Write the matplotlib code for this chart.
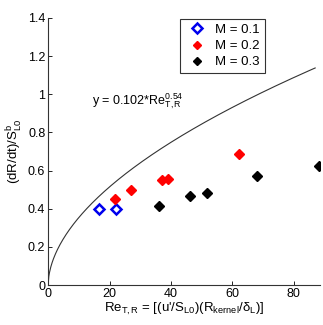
import numpy as np
import matplotlib
matplotlib.use("Agg")
import matplotlib.pyplot as plt

plt.rcParams['font.family'] = ['Liberation Sans', 'DejaVu Sans']
plt.rcParams['mathtext.fontset'] = 'custom'
plt.rcParams['mathtext.rm'] = 'Liberation Sans'
plt.rcParams['mathtext.it'] = 'Liberation Sans'
plt.rcParams['mathtext.default'] = 'regular'

# Data
re_m01 = [16.5, 22.0]
v_m01 = [0.40, 0.40]

re_m02 = [21.7, 27.0, 37.2, 39.1, 62.2]
v_m02 = [0.45, 0.50, 0.55, 0.555, 0.685]

re_m03 = [36.2, 46.1, 51.6, 68.2, 88.1]
v_m03 = [0.415, 0.465, 0.48, 0.57, 0.625]

# power-law fit shown in the chart: y = 0.102 * Re^0.54
fit_coef = 0.102
fit_exp = 0.54
fit_re_max = 87.0

fig = plt.figure(figsize=(3.23, 3.25), dpi=100)
ax = fig.add_axes([0.149, 0.123, 0.841, 0.822])

re_fit = np.linspace(0, fit_re_max, 400)
ax.plot(re_fit, fit_coef * re_fit ** fit_exp, color='#333333', lw=0.8)

ax.plot(re_m01, v_m01, 'D', ls='none', mfc='white', mec='#0000ee', mew=1.8, ms=5.5,
        label='M = 0.1')
ax.plot(re_m02, v_m02, 'D', ls='none', color='#ff0000', ms=5, label='M = 0.2')
ax.plot(re_m03, v_m03, 'D', ls='none', color='black', ms=5, label='M = 0.3')

ax.text(14.2, 0.965, 'y = 0.102*Re$_{T,R}^{0.54}$', fontsize=9, va='center')

ax.set_xlim(0, 88.5)
ax.set_ylim(0, 1.4)
ax.set_xticks([0, 20, 40, 60, 80])
ax.set_yticks([0, 0.2, 0.4, 0.6, 0.8, 1.0, 1.2, 1.4])
ax.set_yticklabels(['0', '0.2', '0.4', '0.6', '0.8', '1', '1.2', '1.4'])
ax.tick_params(direction='in', length=3, labelsize=9, width=0.6, pad=2)
for s in ['top', 'right']:
    ax.spines[s].set_visible(False)
for s in ['left', 'bottom']:
    ax.spines[s].set_linewidth(0.8)
    ax.spines[s].set_color('#333333')

ax.set_xlabel("Re$_{T,R}$ = [(u'/S$_{L0}$)(R$_{kernel}$/$\\delta_L$)]", fontsize=9.5, labelpad=1)
ax.set_ylabel('(dR/dt)/S$_{L0}^{b}$', fontsize=9.5, labelpad=2)

leg = ax.legend(loc='upper left', bbox_to_anchor=(0.487, 0.995), fontsize=9.5,
                frameon=True, fancybox=False, edgecolor='black', markerscale=0.85,
                handletextpad=0.5, borderpad=0.35, labelspacing=0.3, handlelength=1.8,
                borderaxespad=0)
leg.get_frame().set_linewidth(0.8)

fig.savefig('out.png', dpi=100)
